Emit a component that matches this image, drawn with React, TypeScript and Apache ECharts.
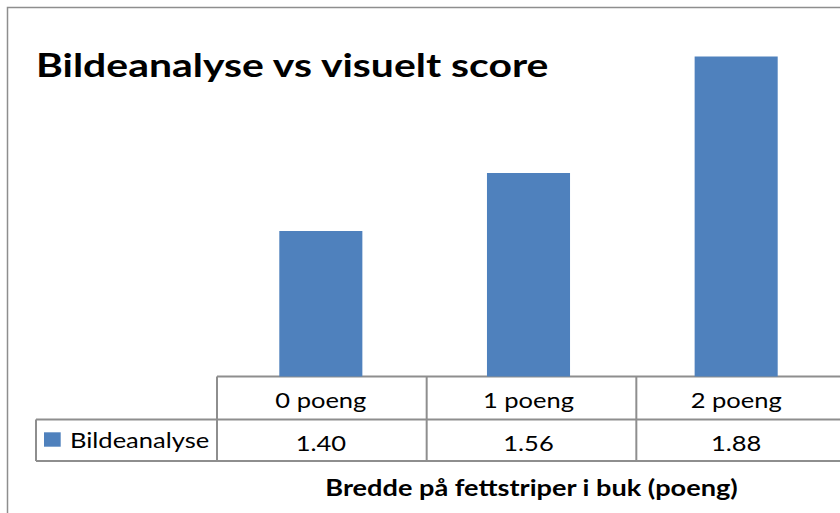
import React, { useEffect, useRef } from "react";
import * as echarts from "echarts";

const categories = ["0 poeng", "1 poeng", "2 poeng"];
const values = [1.4, 1.56, 1.88];
const seriesName = "Bildeanalyse";
const titleText = "Bildeanalyse vs visuelt score";
const axisTitle = "Bredde på fettstriper i buk (poeng)";

const FONT = "Lato, 'Noto Sans', sans-serif";
const LINE = "#8e8e8e";
const BAR = "#4F81BD";

export default function App() {
  const ref = useRef<HTMLDivElement>(null);
  useEffect(() => {
    if (!ref.current) return;
    const chart = echarts.init(ref.current, undefined, { renderer: "svg" });
    const gridLeft = 217;
    const gridRightPx = 846;
    const gridTop = 13;
    const tableTop = 376.5;
    const rowMid = 419.5;
    const tableBottom = 461;
    chart.setOption({
      animation: false,
      grid: { left: gridLeft, right: 840 - gridRightPx, top: gridTop, bottom: 513 - tableTop, containLabel: false },
      xAxis: { type: "category", data: categories, show: false },
      yAxis: { type: "value", min: 1, max: 2, show: false },
      series: [
        {
          name: seriesName,
          type: "bar",
          data: values,
          barWidth: "40%",
          itemStyle: { color: BAR },
        },
      ],
    });
    const colW = (gridRightPx - gridLeft) / categories.length;
    const SX = 1.16;
    const els: any[] = [
      { type: "rect", shape: { x: 7.5, y: 7.5, width: 900, height: 600 }, style: { fill: "none", stroke: LINE, lineWidth: 1.5 }, silent: true },
      { type: "text", x: 36, y: 64.5, scaleX: 1.24, style: { text: titleText, font: `bold 33px ${FONT}`, fill: "#000", verticalAlign: "middle", align: "left" } },
      { type: "line", shape: { x1: gridLeft, y1: tableTop, x2: 900, y2: tableTop }, style: { stroke: LINE, lineWidth: 2 } },
      { type: "line", shape: { x1: 36, y1: rowMid, x2: 900, y2: rowMid }, style: { stroke: LINE, lineWidth: 2 } },
      { type: "line", shape: { x1: 36, y1: tableBottom, x2: 900, y2: tableBottom }, style: { stroke: LINE, lineWidth: 2 } },
      { type: "line", shape: { x1: 36, y1: rowMid, x2: 36, y2: tableBottom }, style: { stroke: LINE, lineWidth: 2 } },
      { type: "rect", shape: { x: 44, y: 432.3, width: 16.7, height: 14.4 }, style: { fill: BAR } },
      { type: "text", x: 70, y: 439.5, scaleX: SX, style: { text: seriesName, font: `22px ${FONT}`, fill: "#000", verticalAlign: "middle", align: "left" } },
      { type: "text", x: (gridLeft + gridRightPx) / 2, y: 486.7, scaleX: 1.18, style: { text: axisTitle, font: `bold 23px ${FONT}`, fill: "#000", verticalAlign: "middle", align: "center" } },
    ];
    for (let i = 0; i <= categories.length; i++) {
      const x = gridLeft + i * colW;
      els.push({ type: "line", shape: { x1: x, y1: tableTop, x2: x, y2: tableBottom }, style: { stroke: LINE, lineWidth: 2 } });
    }
    categories.forEach((c, i) => {
      const [cx] = chart.convertToPixel({ xAxisIndex: 0, yAxisIndex: 0 }, [c, 1]) as number[];
      els.push({ type: "text", x: cx, y: 399.5, scaleX: SX, style: { text: c, font: `22px ${FONT}`, fill: "#000", verticalAlign: "middle", align: "center" } });
      els.push({ type: "text", x: cx, y: 442.5, scaleX: SX, style: { text: values[i].toFixed(2), font: `22px ${FONT}`, fill: "#000", verticalAlign: "middle", align: "center" } });
    });
    chart.setOption({ graphic: { elements: els } });
    return () => chart.dispose();
  }, []);
  return <div ref={ref} style={{ position: "fixed", left: 0, top: 0, width: 840, height: 513, background: "#fff" }} />;
}
